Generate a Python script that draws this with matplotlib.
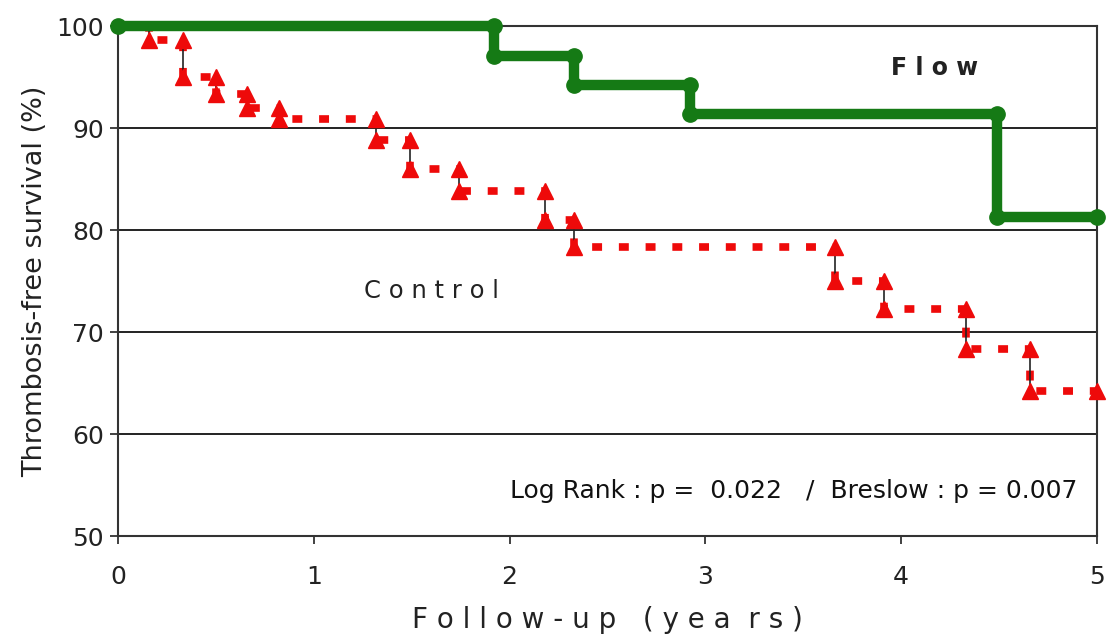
import matplotlib
matplotlib.use("Agg")
import matplotlib.pyplot as plt
import numpy as np

# ---- data ----
flow_t = [0.0, 1.92, 2.33, 2.92, 4.49, 5.0]
flow_s = [100.0, 97.1, 94.2, 91.4, 81.3, 81.3]

ctrl_t = [0.0, 0.16, 0.33, 0.50, 0.66, 0.82, 1.32, 1.49, 1.74, 2.18, 2.33,
          3.66, 3.91, 4.33, 4.66, 5.0]
ctrl_s = [100.0, 98.6, 95.0, 93.3, 92.0, 90.9, 88.8, 86.0, 83.8, 81.0, 78.3,
          75.0, 72.3, 68.3, 64.2, 64.2]

x_ticks = [0, 1, 2, 3, 4, 5]
y_ticks = [50, 60, 70, 80, 90, 100]

GREEN = "#157a15"
RED = "#ee0a0a"
DARK = "#333333"

fig = plt.figure(figsize=(11.07, 6.42), dpi=100)
ax = fig.add_axes([0.1066, 0.165, 0.8844, 0.7945])
ax.set_xlim(0, 5)
ax.set_ylim(50, 100)

# horizontal grid lines
for yv in y_ticks[1:]:
    ax.axhline(yv, color="#222222", lw=1.4, zorder=1)

# ---- Control: red dotted step line ----
ax.plot(ctrl_t, ctrl_s, drawstyle="steps-post", color=RED, lw=5.5,
        linestyle=(0, (1.3, 2.2)), dash_capstyle="butt", zorder=3,
        clip_on=False)
ct = np.array(ctrl_t)
cs = np.array(ctrl_s)
ax.vlines(ct[1:-1], cs[1:-1], cs[:-2], color="#222222", lw=1.2, zorder=3)
# markers at top and bottom of each drop
ax.plot(ct[2:-1], cs[1:-2], linestyle="none", marker="^", ms=11,
        color=RED, zorder=4, clip_on=False)
ax.plot(ct[1:], cs[1:], linestyle="none", marker="^", ms=11,
        color=RED, zorder=4, clip_on=False)

# ---- Flow: green solid step line ----
ax.plot(flow_t, flow_s, drawstyle="steps-post", color=GREEN, lw=7.5,
        solid_capstyle="butt", zorder=5, clip_on=False)
ft = np.array(flow_t)
fs = np.array(flow_s)
ax.plot(ft[:-1], np.r_[fs[0], fs[:-2]], linestyle="none", marker="o", ms=11,
        color=GREEN, zorder=6, clip_on=False)
ax.plot(ft[1:], fs[1:], linestyle="none", marker="o", ms=11,
        color=GREEN, zorder=6, clip_on=False)

# ---- axes styling ----
for s in ["left", "bottom", "right", "top"]:
    ax.spines[s].set_color(DARK)
    ax.spines[s].set_linewidth(1.5)
ax.set_xticks(x_ticks)
ax.set_yticks(y_ticks)
ax.set_xticklabels([str(v) for v in x_ticks])
ax.set_yticklabels([str(v) for v in y_ticks])
ax.tick_params(axis="both", direction="out", length=6, width=1.3,
               color=DARK, labelsize=18, labelcolor="#222222")
ax.tick_params(axis="x", pad=15)
ax.tick_params(axis="y", pad=4)

ax.set_ylabel("Thrombosis-free survival (%)", fontsize=19.5, color="#222222",
              labelpad=6)
ax.set_xlabel("F o l l o w - u p   ( y e a  r s )", fontsize=20,
              color="#222222", labelpad=12)

ax.text(4.17, 95.9, "F l o w", fontsize=17, color="#222222", ha="center",
        va="center", fontweight="semibold")
ax.text(1.6, 74.0, "C o n t r o l", fontsize=17.5, color="#222222",
        ha="center", va="center")
ax.text(4.9, 54.4, "Log Rank : p =  0.022   /  Breslow : p = 0.007",
        fontsize=18, color="#111111", ha="right", va="center",
        family=["Liberation Sans Narrow", "DejaVu Sans"])

fig.savefig("out.png", dpi=100)
